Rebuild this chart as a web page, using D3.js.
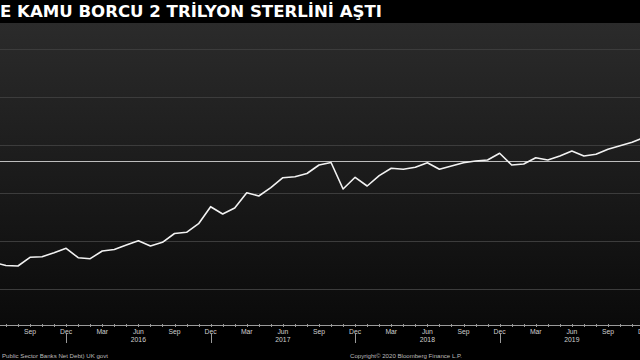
<!DOCTYPE html>
<html><head><meta charset="utf-8">
<script src="https://cdn.jsdelivr.net/npm/d3@7"></script>
<style>html,body{margin:0;padding:0;background:#000;}svg{display:block;}</style>
</head><body>
<svg id="chart" width="640" height="360"></svg>
<script>
// Data (monthly, June 2015 – December 2019), £ billion
const months = ["Jun 2015","Jul 2015","Aug 2015","Sep 2015","Oct 2015","Nov 2015","Dec 2015",
  "Jan 2016","Feb 2016","Mar 2016","Apr 2016","May 2016","Jun 2016","Jul 2016","Aug 2016","Sep 2016","Oct 2016","Nov 2016","Dec 2016",
  "Jan 2017","Feb 2017","Mar 2017","Apr 2017","May 2017","Jun 2017","Jul 2017","Aug 2017","Sep 2017","Oct 2017","Nov 2017","Dec 2017",
  "Jan 2018","Feb 2018","Mar 2018","Apr 2018","May 2018","Jun 2018","Jul 2018","Aug 2018","Sep 2018","Oct 2018","Nov 2018","Dec 2018",
  "Jan 2019","Feb 2019","Mar 2019","Apr 2019","May 2019","Jun 2019","Jul 2019","Aug 2019","Sep 2019","Oct 2019","Nov 2019","Dec 2019"];
const debt = [1682.8,1673.4,1671.9,1699.1,1700.9,1713.4,1727.2,
  1697.8,1694.7,1718.8,1723.4,1737.5,1750.9,1734.4,1745.9,1773.4,1777.2,1804.1,1857.2,
  1834.4,1853.1,1900.9,1890.6,1916.6,1947.8,1950.9,1960.9,1987.5,1995.3,1912.5,1949.1,
  1921.9,1954.1,1977.2,1974.1,1980.3,1994.7,1974.1,1984.4,1994.7,2000.0,2003.1,2024.1,
  1987.5,1990.6,2010.3,2003.1,2015.6,2031.3,2015.6,2020.9,2036.6,2047.8,2058.4,2073.4];
const gridValues = [1600,1750,1900,2050,2200,2350];
const refValue = 2000;
const monthLabels = ["Sep","Dec","Mar","Jun","Sep","Dec","Mar","Jun","Sep","Dec","Mar","Jun","Sep","Dec","Mar","Jun","Sep","Dec"];
const monthLabelIdx = [3,6,9,12,15,18,21,24,27,30,33,36,39,42,45,48,51,54];
const yearLabels = ["2016","2017","2018","2019"];
const yearLabelIdx = [12,24,36,48];
const yearSepIdx = [6,18,30,42];
const title = "E KAMU BORCU 2 TRİLYON STERLİNİ AŞTI";
const sourceText = "Public Sector Banks Net Debt) UK govt";
const copyrightText = "Copyright© 2020 Bloomberg Finance L.P.";

const svg = d3.select("#chart");
const W = 640, H = 360;
const plotTop = 23, plotBottom = 325;

const x = d3.scaleLinear().domain([3, 51]).range([30, 608]);
const y = d3.scaleLinear().domain([1600, 2350]).range([289, 49]);

svg.append("rect").attr("width", W).attr("height", H).attr("fill", "#000");

const defs = svg.append("defs");
const grad = defs.append("linearGradient").attr("id","bg").attr("x1",0).attr("y1",0).attr("x2",0).attr("y2",1);
grad.append("stop").attr("offset","0%").attr("stop-color","#2b2b2b");
grad.append("stop").attr("offset","50%").attr("stop-color","#1b1b1b");
grad.append("stop").attr("offset","100%").attr("stop-color","#0a0a0a");
svg.append("rect").attr("x",0).attr("y",plotTop).attr("width",W).attr("height",plotBottom-plotTop).attr("fill","url(#bg)");

// gridlines
svg.append("g").selectAll("line").data(gridValues).join("line")
  .attr("x1",0).attr("x2",W).attr("y1",d=>Math.round(y(d))+0.5).attr("y2",d=>Math.round(y(d))+0.5)
  .attr("stroke","#3c3c3c").attr("stroke-width",1);

// reference line
svg.append("line").attr("x1",0).attr("x2",W)
  .attr("y1",Math.round(y(refValue))+0.5).attr("y2",Math.round(y(refValue))+0.5)
  .attr("stroke","#bdbdbd").attr("stroke-width",1);

// series line
const line = d3.line().x((d,i)=>x(i)).y(d=>y(d));
svg.append("path").datum(debt).attr("d",line).attr("fill","none")
  .attr("stroke","#f2f2f2").attr("stroke-width",1.6).attr("stroke-linejoin","round");

// x axis
const axisY = plotBottom;
svg.append("line").attr("x1",0).attr("x2",W).attr("y1",axisY+0.5).attr("y2",axisY+0.5)
  .attr("stroke","#9a9a9a").attr("stroke-width",1);
svg.append("g").selectAll("line").data(d3.range(0, months.length)).join("line")
  .attr("x1",i=>Math.round(x(i))+0.5).attr("x2",i=>Math.round(x(i))+0.5)
  .attr("y1",axisY-1).attr("y2",axisY+2).attr("stroke","#9a9a9a").attr("stroke-width",1);
svg.append("g").selectAll("line").data(yearSepIdx).join("line")
  .attr("x1",i=>Math.round(x(i))+0.5).attr("x2",i=>Math.round(x(i))+0.5)
  .attr("y1",334).attr("y2",343).attr("stroke","#9a9a9a").attr("stroke-width",1);

svg.append("g").selectAll("text").data(monthLabels).join("text")
  .attr("x",(d,i)=>x(monthLabelIdx[i])).attr("y",333.5).attr("text-anchor","middle")
  .attr("font-family","Liberation Sans, Arial, sans-serif").attr("font-size",6.8)
  .attr("fill","#d0d0d0").text(d=>d);
svg.append("g").selectAll("text").data(yearLabels).join("text")
  .attr("x",(d,i)=>x(yearLabelIdx[i])).attr("y",341.5).attr("text-anchor","middle")
  .attr("font-family","Liberation Sans, Arial, sans-serif").attr("font-size",6.8)
  .attr("fill","#d0d0d0").text(d=>d);

// title
svg.append("text").attr("x",0).attr("y",17).attr("font-family","DejaVu Sans, Verdana, sans-serif")
  .attr("font-weight","bold").attr("font-size",15.5).attr("fill","#ffffff")
  .attr("textLength",382).attr("lengthAdjust","spacingAndGlyphs").text(title);

// footer
svg.append("text").attr("x",2).attr("y",358).attr("font-family","Liberation Sans, Arial, sans-serif")
  .attr("font-size",6).attr("fill","#bdbdbd").attr("textLength",106).attr("lengthAdjust","spacingAndGlyphs").text(sourceText);
svg.append("text").attr("x",350).attr("y",358).attr("font-family","Liberation Sans, Arial, sans-serif")
  .attr("font-size",6).attr("fill","#bdbdbd").attr("textLength",112).attr("lengthAdjust","spacingAndGlyphs").text(copyrightText);
</script>
</body></html>
